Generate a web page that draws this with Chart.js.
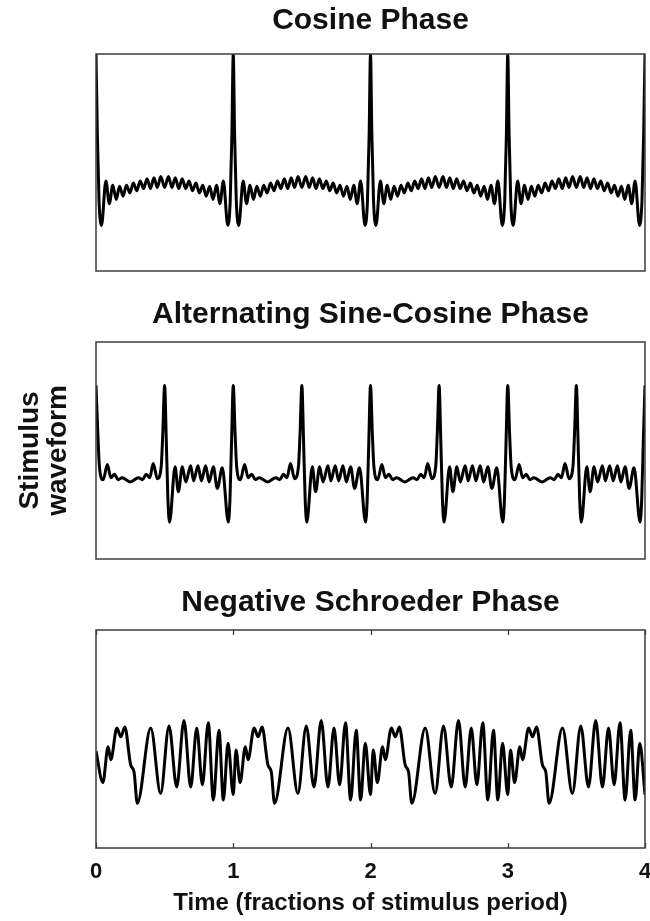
<!DOCTYPE html>
<html>
<head>
<meta charset="utf-8">
<script src="https://cdn.jsdelivr.net/npm/chart.js@4.4.1/dist/chart.umd.min.js"></script>
<style>
  html, body { margin: 0; padding: 0; background: #fff; overflow: hidden; width: 650px; height: 921px; }
  canvas.panel { position: absolute; left: 0; }
</style>
</head>
<body>
<canvas id="cosinePanel" class="panel" width="672" height="275" style="top:0px"></canvas>
<canvas id="altPanel" class="panel" width="672" height="275" style="top:288px"></canvas>
<canvas id="schroederPanel" class="panel" width="672" height="345" style="top:576px"></canvas>
<script>
// Panel titles and axis text
const panelTitles = ['Cosine Phase', 'Alternating Sine-Cosine Phase', 'Negative Schroeder Phase'];
const timeTicks = [0, 1, 2, 3, 4];
const timeTitle = 'Time (fractions of stimulus period)';
const amplitudeTitle = ['Stimulus', 'waveform'];

// Cosine-phase complex: turning points of the waveform (time in stimulus periods, relative amplitude)
const cosineTime = [
  0, 0.010, 0.022, 0.040, 0.072, 0.097, 0.122, 0.147, 0.172, 0.197, 0.222, 0.247, 0.272, 0.297, 0.322, 0.347, 0.372, 0.397, 0.422, 0.447, 0.472, 0.500, 0.528, 0.553, 0.578, 0.603, 0.628, 0.653, 0.678, 0.703, 0.728, 0.753, 0.778, 0.803, 0.828, 0.853, 0.878, 0.903, 0.928, 0.960, 0.978, 0.990,
  1, 1.010, 1.022, 1.040, 1.072, 1.097, 1.122, 1.147, 1.172, 1.197, 1.222, 1.247, 1.272, 1.297, 1.322, 1.347, 1.372, 1.397, 1.422, 1.447, 1.472, 1.500, 1.528, 1.553, 1.578, 1.603, 1.628, 1.653, 1.678, 1.703, 1.728, 1.753, 1.778, 1.803, 1.828, 1.853, 1.878, 1.903, 1.928, 1.960, 1.978, 1.990,
  2, 2.010, 2.022, 2.040, 2.072, 2.097, 2.122, 2.147, 2.172, 2.197, 2.222, 2.247, 2.272, 2.297, 2.322, 2.347, 2.372, 2.397, 2.422, 2.447, 2.472, 2.500, 2.528, 2.553, 2.578, 2.603, 2.628, 2.653, 2.678, 2.703, 2.728, 2.753, 2.778, 2.803, 2.828, 2.853, 2.878, 2.903, 2.928, 2.960, 2.978, 2.990,
  3, 3.010, 3.022, 3.040, 3.072, 3.097, 3.122, 3.147, 3.172, 3.197, 3.222, 3.247, 3.272, 3.297, 3.322, 3.347, 3.372, 3.397, 3.422, 3.447, 3.472, 3.500, 3.528, 3.553, 3.578, 3.603, 3.628, 3.653, 3.678, 3.703, 3.728, 3.753, 3.778, 3.803, 3.828, 3.853, 3.878, 3.903, 3.928, 3.960, 3.978, 3.990,
  4
];
const cosineWave = [
  1.00, 0.25, -0.35, -0.58, -0.17, -0.38, -0.21, -0.34, -0.22, -0.31, -0.21, -0.28, -0.19, -0.26, -0.17, -0.24, -0.15, -0.24, -0.14, -0.23, -0.13, -0.23, -0.13, -0.23, -0.14, -0.24, -0.15, -0.24, -0.17, -0.26, -0.19, -0.28, -0.21, -0.31, -0.22, -0.34, -0.21, -0.38, -0.17, -0.58, -0.35, 0.25,
  1.00, 0.25, -0.35, -0.58, -0.17, -0.38, -0.21, -0.34, -0.22, -0.31, -0.21, -0.28, -0.19, -0.26, -0.17, -0.24, -0.15, -0.24, -0.14, -0.23, -0.13, -0.23, -0.13, -0.23, -0.14, -0.24, -0.15, -0.24, -0.17, -0.26, -0.19, -0.28, -0.21, -0.31, -0.22, -0.34, -0.21, -0.38, -0.17, -0.58, -0.35, 0.25,
  1.00, 0.25, -0.35, -0.58, -0.17, -0.38, -0.21, -0.34, -0.22, -0.31, -0.21, -0.28, -0.19, -0.26, -0.17, -0.24, -0.15, -0.24, -0.14, -0.23, -0.13, -0.23, -0.13, -0.23, -0.14, -0.24, -0.15, -0.24, -0.17, -0.26, -0.19, -0.28, -0.21, -0.31, -0.22, -0.34, -0.21, -0.38, -0.17, -0.58, -0.35, 0.25,
  1.00, 0.25, -0.35, -0.58, -0.17, -0.38, -0.21, -0.34, -0.22, -0.31, -0.21, -0.28, -0.19, -0.26, -0.17, -0.24, -0.15, -0.24, -0.14, -0.23, -0.13, -0.23, -0.13, -0.23, -0.14, -0.24, -0.15, -0.24, -0.17, -0.26, -0.19, -0.28, -0.21, -0.31, -0.22, -0.34, -0.21, -0.38, -0.17, -0.58, -0.35, 0.25,
  1.00
];

// Alternating sine-cosine complex
const altTime = [
  0, 0.013, 0.025, 0.052, 0.083, 0.108, 0.135, 0.162, 0.190, 0.250, 0.310, 0.338, 0.365, 0.392, 0.417, 0.447, 0.475, 0.487, 0.500, 0.512, 0.524, 0.536, 0.576, 0.600, 0.629, 0.654, 0.690, 0.711, 0.743, 0.768, 0.799, 0.824, 0.855, 0.884, 0.920, 0.964, 0.976, 0.988,
  1, 1.013, 1.025, 1.052, 1.083, 1.108, 1.135, 1.162, 1.190, 1.250, 1.310, 1.338, 1.365, 1.392, 1.417, 1.447, 1.475, 1.487, 1.500, 1.512, 1.524, 1.536, 1.576, 1.600, 1.629, 1.654, 1.690, 1.711, 1.743, 1.768, 1.799, 1.824, 1.855, 1.884, 1.920, 1.964, 1.976, 1.988,
  2, 2.013, 2.025, 2.052, 2.083, 2.108, 2.135, 2.162, 2.190, 2.250, 2.310, 2.338, 2.365, 2.392, 2.417, 2.447, 2.475, 2.487, 2.500, 2.512, 2.524, 2.536, 2.576, 2.600, 2.629, 2.654, 2.690, 2.711, 2.743, 2.768, 2.799, 2.824, 2.855, 2.884, 2.920, 2.964, 2.976, 2.988,
  3, 3.013, 3.025, 3.052, 3.083, 3.108, 3.135, 3.162, 3.190, 3.250, 3.310, 3.338, 3.365, 3.392, 3.417, 3.447, 3.475, 3.487, 3.500, 3.512, 3.524, 3.536, 3.576, 3.600, 3.629, 3.654, 3.690, 3.711, 3.743, 3.768, 3.799, 3.824, 3.855, 3.884, 3.920, 3.964, 3.976, 3.988,
  4
];
const altWave = [
  0.60, 0.17, -0.15, -0.27, -0.13, -0.25, -0.22, -0.27, -0.25, -0.29, -0.25, -0.27, -0.22, -0.25, -0.12, -0.26, -0.15, 0.17, 0.60, 0.10, -0.45, -0.66, -0.15, -0.38, -0.15, -0.29, -0.14, -0.28, -0.14, -0.28, -0.14, -0.29, -0.15, -0.35, -0.16, -0.66, -0.45, 0.10,
  0.60, 0.17, -0.15, -0.27, -0.13, -0.25, -0.22, -0.27, -0.25, -0.29, -0.25, -0.27, -0.22, -0.25, -0.12, -0.26, -0.15, 0.17, 0.60, 0.10, -0.45, -0.66, -0.15, -0.38, -0.15, -0.29, -0.14, -0.28, -0.14, -0.28, -0.14, -0.29, -0.15, -0.35, -0.16, -0.66, -0.45, 0.10,
  0.60, 0.17, -0.15, -0.27, -0.13, -0.25, -0.22, -0.27, -0.25, -0.29, -0.25, -0.27, -0.22, -0.25, -0.12, -0.26, -0.15, 0.17, 0.60, 0.10, -0.45, -0.66, -0.15, -0.38, -0.15, -0.29, -0.14, -0.28, -0.14, -0.28, -0.14, -0.29, -0.15, -0.35, -0.16, -0.66, -0.45, 0.10,
  0.60, 0.17, -0.15, -0.27, -0.13, -0.25, -0.22, -0.27, -0.25, -0.29, -0.25, -0.27, -0.22, -0.25, -0.12, -0.26, -0.15, 0.17, 0.60, 0.10, -0.45, -0.66, -0.15, -0.38, -0.15, -0.29, -0.14, -0.28, -0.14, -0.28, -0.14, -0.29, -0.15, -0.35, -0.16, -0.66, -0.45, 0.10,
  0.60
];

// Negative Schroeder-phase complex (downward frequency sweep within each period)
const schroederTime = [
  0, 0.050, 0.088, 0.108, 0.152, 0.181, 0.210, 0.253, 0.277, 0.301, 0.399, 0.471, 0.532, 0.588, 0.641, 0.690, 0.734, 0.775, 0.818, 0.855, 0.896, 0.928, 0.962,
  1, 1.020, 1.050, 1.088, 1.108, 1.152, 1.181, 1.210, 1.253, 1.277, 1.301, 1.399, 1.471, 1.532, 1.588, 1.641, 1.690, 1.734, 1.775, 1.818, 1.855, 1.896, 1.928, 1.962,
  2, 2.020, 2.050, 2.088, 2.108, 2.152, 2.181, 2.210, 2.253, 2.277, 2.301, 2.399, 2.471, 2.532, 2.588, 2.641, 2.690, 2.734, 2.775, 2.818, 2.855, 2.896, 2.928, 2.962,
  3, 3.020, 3.050, 3.088, 3.108, 3.152, 3.181, 3.210, 3.253, 3.277, 3.301, 3.399, 3.471, 3.532, 3.588, 3.641, 3.690, 3.734, 3.775, 3.818, 3.855, 3.896, 3.928, 3.962,
  4
];
const schroederWave = [
  -0.11, -0.40, -0.07, -0.19, 0.10, 0.02, 0.11, -0.24, -0.30, -0.59, 0.10, -0.50, 0.12, -0.44, 0.17, -0.44, 0.10, -0.42, 0.15, -0.56, 0.08, -0.56, -0.04,
  -0.51, -0.10, -0.40, -0.07, -0.19, 0.10, 0.02, 0.11, -0.24, -0.30, -0.59, 0.10, -0.50, 0.12, -0.44, 0.17, -0.44, 0.10, -0.42, 0.15, -0.56, 0.08, -0.56, -0.04,
  -0.51, -0.10, -0.40, -0.07, -0.19, 0.10, 0.02, 0.11, -0.24, -0.30, -0.59, 0.10, -0.50, 0.12, -0.44, 0.17, -0.44, 0.10, -0.42, 0.15, -0.56, 0.08, -0.56, -0.04,
  -0.51, -0.10, -0.40, -0.07, -0.19, 0.10, 0.02, 0.11, -0.24, -0.30, -0.59, 0.10, -0.50, 0.12, -0.44, 0.17, -0.44, 0.10, -0.42, 0.15, -0.56, 0.08, -0.56, -0.04,
  -0.51
];

const FONT = "'Liberation Sans', Arial, Helvetica, sans-serif";
const INK = '#111111';

// Box around each plot area, plus inward tick marks where requested
const framePlugin = {
  id: 'frame',
  afterDatasetsDraw(chart, args, opts) {
    const { ctx, chartArea: a } = chart;
    ctx.save();
    ctx.strokeStyle = '#3c3c3c';
    ctx.lineWidth = 1.5;
    ctx.strokeRect(a.left, a.top, a.right - a.left, a.bottom - a.top);
    if (opts.ticks) {
      const xs = chart.scales.x;
      ctx.lineWidth = 1.3;
      ctx.beginPath();
      timeTicks.forEach(v => {
        const px = Math.round(xs.getPixelForValue(v)) + 0.5;
        ctx.moveTo(px, a.bottom); ctx.lineTo(px, a.bottom - 5);
        ctx.moveTo(px, a.top); ctx.lineTo(px, a.top + 5);
      });
      ctx.stroke();
    }
    ctx.restore();
  }
};

function makePanel(id, title, times, values, cfg) {
  const points = times.map((t, i) => ({ x: t, y: values[i] }));
  return new Chart(document.getElementById(id), {
    type: 'line',
    data: {
      datasets: [{
        data: points,
        borderColor: '#000000',
        borderWidth: 3,
        pointRadius: 0,
        fill: false,
        cubicInterpolationMode: 'monotone'
      }]
    },
    options: {
      responsive: false,
      animation: false,
      events: [],
      layout: { padding: { left: cfg.padLeft, right: 27, top: 0, bottom: cfg.padBottom } },
      plugins: {
        legend: { display: false },
        tooltip: { enabled: false },
        title: {
          display: true,
          text: title,
          color: INK,
          fullSize: false,
          font: { family: FONT, size: 30, weight: 'bold', lineHeight: 1.2 },
          padding: { top: cfg.titleTop, bottom: cfg.titleBottom }
        },
        frame: { ticks: !!cfg.ticks }
      },
      scales: {
        x: {
          type: 'linear',
          min: 0,
          max: 4,
          display: !!cfg.xAxis,
          grid: { display: false, drawTicks: false },
          border: { display: false },
          afterBuildTicks: s => { s.ticks = timeTicks.map(v => ({ value: v })); },
          ticks: {
            autoSkip: false,
            maxRotation: 0,
            padding: 11,
            color: INK,
            font: { family: FONT, size: 22, weight: 'bold' }
          },
          title: {
            display: !!cfg.xAxis,
            text: timeTitle,
            color: INK,
            font: { family: FONT, size: 24, weight: 'bold' },
            padding: { top: 0, bottom: 3 }
          },
          afterFit: s => { if (cfg.xAxis) s.height = 73; }
        },
        y: {
          min: -1,
          max: 1,
          display: !!cfg.yAxis,
          grid: { display: false, drawTicks: false },
          border: { display: false },
          ticks: { display: false },
          title: {
            display: !!cfg.yAxis,
            text: amplitudeTitle,
            color: INK,
            font: { family: FONT, size: 28, weight: 'bold', lineHeight: 1.0 },
            padding: { top: 8, bottom: 0 }
          },
          afterFit: s => { if (cfg.yAxis) s.width = 88; }
        }
      }
    },
    plugins: [framePlugin]
  });
}

makePanel('cosinePanel', panelTitles[0], cosineTime, cosineWave,
  { padLeft: 96, padBottom: 4, titleTop: 2.4, titleBottom: 15.6 });
makePanel('altPanel', panelTitles[1], altTime, altWave,
  { padLeft: 8, padBottom: 4, titleTop: 8.4, titleBottom: 9.6, yAxis: true });
makePanel('schroederPanel', panelTitles[2], schroederTime, schroederWave,
  { padLeft: 96, padBottom: 0, titleTop: 8.4, titleBottom: 9.6, xAxis: true, ticks: true });
</script>
</body>
</html>
